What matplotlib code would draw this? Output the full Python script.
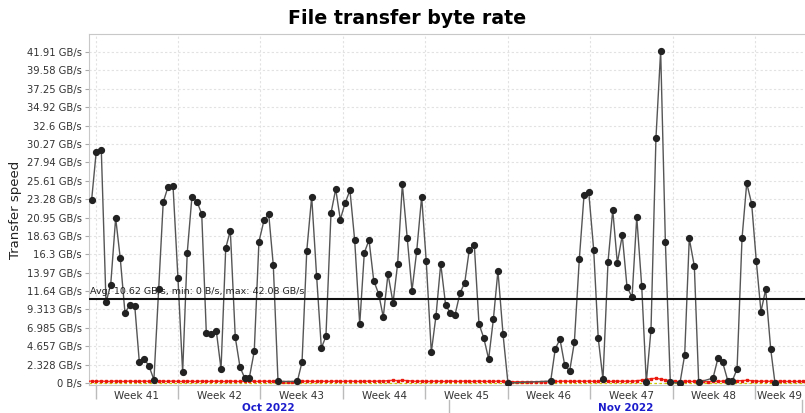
import matplotlib
matplotlib.use("Agg")
import matplotlib.pyplot as plt
import matplotlib.transforms as mtransforms

# days since 2022-10-01 00:00
days = [
    0.66, 1.05, 1.48, 1.88, 2.28, 2.70, 3.09, 3.49, 3.89, 4.32,
    4.71, 5.13, 5.53, 5.95, 6.35, 6.74, 7.14, 7.57, 7.99, 8.39,
    8.78, 9.18, 9.61, 10.01, 10.40, 10.82, 11.25, 11.65, 12.05, 12.44,
    12.86, 13.26, 13.66, 14.05, 14.47, 14.87, 15.30, 15.70, 16.09, 16.49,
    18.13, 18.53, 18.93, 19.35, 19.77, 20.17, 20.56, 20.99, 21.39, 21.78,
    22.18, 22.60, 23.00, 23.43, 23.82, 24.22, 24.62, 25.04, 25.43, 25.83,
    26.26, 26.65, 27.05, 27.47, 27.87, 28.27, 28.69, 29.08, 29.51, 29.91,
    30.31, 30.73, 31.12, 31.52, 31.95, 32.35, 32.74, 33.16, 33.56, 33.96,
    34.38, 34.78, 35.17, 35.60, 36.02,
    39.65, 40.04, 40.44, 40.84, 41.26, 41.66, 42.08, 42.48, 42.88, 43.30,
    43.69, 44.09, 44.52, 44.92, 45.31, 45.73, 46.13, 46.56, 46.96, 47.38,
    47.77, 48.17, 48.59, 48.99, 49.39, 49.81,
    50.63, 51.03, 51.42, 51.85, 52.22,
    53.44, 53.86, 54.26, 54.69, 55.08, 55.48, 55.90, 56.30, 56.72, 57.11,
    57.51, 57.91, 58.34, 58.70,
]

# GB/s
rate = [
    23.2, 29.3, 29.5, 10.2, 12.45, 20.9, 15.8, 8.9, 9.83, 9.8,
    2.66, 3.04, 2.15, 0.42, 11.9, 22.9, 24.8, 25.0, 13.3, 1.35,
    16.5, 23.6, 22.96, 21.4, 6.33, 6.2, 6.58, 1.77, 17.1, 19.3,
    5.79, 2.03, 0.63, 0.63, 4.0, 17.9, 20.6, 21.4, 14.9, 0.2,
    0.2, 2.66, 16.7, 23.6, 13.5, 4.43, 5.9, 21.5, 24.56, 20.7,
    22.75, 24.4, 18.1, 7.43, 16.5, 18.1, 12.96, 11.27, 8.36, 13.8,
    10.17, 15.1, 25.15, 18.3, 11.7, 16.7, 23.6, 15.4, 3.89, 8.53,
    15.1, 9.83, 8.9, 8.6, 11.4, 12.7, 16.9, 17.5, 7.47, 5.74,
    3.04, 8.06, 14.2, 6.2, 0.0,
    0.25, 4.35, 5.53, 2.28, 1.52, 5.15, 15.66, 23.76, 24.2, 16.9,
    5.66, 0.47, 15.36, 21.9, 15.2, 18.7, 12.2, 10.85, 21.0, 12.3,
    0.08, 6.75, 31.0, 42.08, 17.9, 0.08,
    0.0, 3.55, 18.3, 14.8, 0.1,
    0.63, 3.17, 2.6, 0.3, 0.3, 1.77, 18.3, 25.3, 22.7, 15.5,
    9.03, 11.86, 4.27, 0.0,
]

# second (small) series along the bottom
red_days = ([0.26] + days[0:40] + [16.9, 17.3, 17.7] + days[40:85]
            + [36.4, 36.8, 37.2, 37.6, 38.0, 38.4, 38.8, 39.2] + days[85:111]
            + [50.2] + days[111:116] + [52.6, 53.0] + days[116:130]
            + [59.1, 59.5, 59.9, 60.3, 60.7, 61.1])
red_rate = [
    0.2, 0.25, 0.2, 0.25, 0.2, 0.2, 0.25, 0.2, 0.2, 0.25,
    0.2, 0.2, 0.25, 0.2, 0.2, 0.2, 0.25, 0.2, 0.25, 0.2,
    0.2, 0.25, 0.2, 0.2, 0.25, 0.2, 0.2, 0.25, 0.2, 0.2,
    0.25, 0.2, 0.2, 0.2, 0.25, 0.2, 0.2, 0.25, 0.2, 0.2,
    0.2, 0.15, 0.15, 0.15, 0.2, 0.2, 0.25, 0.2, 0.2, 0.25,
    0.2, 0.2, 0.25, 0.2, 0.2, 0.25, 0.2, 0.2, 0.2, 0.25,
    0.2, 0.25, 0.25, 0.3, 0.35, 0.3, 0.35, 0.3, 0.25, 0.2,
    0.25, 0.2, 0.2, 0.25, 0.2, 0.2, 0.25, 0.2, 0.2, 0.25,
    0.2, 0.2, 0.25, 0.2, 0.2, 0.2, 0.25, 0.2, 0.2, 0.15,
    0.15, 0.15, 0.15, 0.15, 0.15, 0.15, 0.15, 0.15, 0.2, 0.2,
    0.25, 0.2, 0.2, 0.25, 0.2, 0.25, 0.2, 0.2, 0.25, 0.2,
    0.2, 0.25, 0.2, 0.25, 0.2, 0.3, 0.35, 0.45, 0.55, 0.6,
    0.5, 0.4, 0.3, 0.2, 0.2, 0.25, 0.2, 0.2, 0.25, 0.2,
    0.15, 0.2, 0.2, 0.25, 0.2, 0.25, 0.3, 0.3, 0.35, 0.3,
    0.25, 0.2, 0.25, 0.2, 0.2, 0.25, 0.2, 0.2, 0.2, 0.2,
    0.2,
]

avg_rate = 10.62
stats_text = "Avg: 10.62 GB/s, min: 0 B/s, max: 42.08 GB/s"

ytick_vals = [0, 2.328, 4.657, 6.985, 9.313, 11.64, 13.97, 16.3, 18.63, 20.95,
              23.28, 25.61, 27.94, 30.27, 32.6, 34.92, 37.25, 39.58, 41.91]
ytick_labels = ["0 B/s", "2.328 GB/s", "4.657 GB/s", "6.985 GB/s", "9.313 GB/s",
                "11.64 GB/s", "13.97 GB/s", "16.3 GB/s", "18.63 GB/s", "20.95 GB/s",
                "23.28 GB/s", "25.61 GB/s", "27.94 GB/s", "30.27 GB/s", "32.6 GB/s",
                "34.92 GB/s", "37.25 GB/s", "39.58 GB/s", "41.91 GB/s"]

# week starts (Sunday) as days since Oct 1
week_starts = [1, 8, 15, 22, 29, 36, 43, 50, 57]
week_labels = ["Week 41", "Week 42", "Week 43", "Week 44", "Week 45",
               "Week 46", "Week 47", "Week 48", "Week 49"]
month_starts = [0, 31, 61]
month_labels = ["Oct 2022", "Nov 2022"]

x_min, x_max = 0.41, 61.25
y_min, y_max = -0.25, 44.19

fig = plt.figure(figsize=(8.05, 4.13), dpi=100)
ax = fig.add_axes([88.7 / 805, 28 / 413, (805 - 88.7) / 805, 351 / 413])

ax.set_xlim(x_min, x_max)
ax.set_ylim(y_min, y_max)

# grid
for y in ytick_vals:
    ax.axhline(y, color="#e2e2e2", lw=0.8, ls=(0, (2, 2)), zorder=0)
for w in week_starts:
    ax.axvline(w, color="#e2e2e2", lw=0.8, ls=(0, (2, 2)), zorder=0)

ax.plot(days, rate, color="#555555", lw=1.0, marker="o", ms=4.2,
        mfc="#222222", mec="#222222", zorder=4)

ax.axhline(0.02, color="#cccc00", lw=0.9, ls=(0, (2, 2)), zorder=2)
ax.plot(red_days, red_rate, color="#ff3020", lw=1.0, marker="s", ms=2.0,
        mec="#e81a10", mfc="#e81a10", zorder=3)

ax.axhline(avg_rate, color="#111111", lw=1.5, zorder=5)
ax.text(0.55, avg_rate + 0.35, stats_text, fontsize=6.8, color="#222222",
        ha="left", va="bottom", zorder=6)

ax.set_yticks(ytick_vals)
ax.set_yticklabels(ytick_labels)
ax.tick_params(axis="y", labelsize=7.2, length=3, color="#aaaaaa",
               labelcolor="#333333", pad=2)
ax.set_ylabel("Transfer speed", fontsize=9.5, color="#222222", labelpad=3)

# week separators as major ticks, week names as minor ticks
ax.set_xticks(week_starts)
ax.set_xticklabels([])
ax.tick_params(axis="x", which="major", length=10, color="#bbbbbb", width=1)
centers = []
for i, w in enumerate(week_starts):
    end = min(w + 7, x_max)
    centers.append((w + end) / 2)
ax.set_xticks(centers, minor=True)
ax.set_xticklabels(week_labels, minor=True)
ax.tick_params(axis="x", which="minor", length=0, labelsize=7.5,
               labelcolor="#333333", pad=4)

trans = mtransforms.blended_transform_factory(ax.transData, fig.transFigure)
for i, lab in enumerate(month_labels):
    lo = max(month_starts[i], x_min)
    hi = min(month_starts[i + 1], x_max)
    ax.text((lo + hi) / 2, 5 / 413, lab, transform=trans, ha="center",
            va="center", fontsize=7.5, fontweight="bold", color="#1c1ccc")
for m in month_starts[1:]:
    ax.plot([m, m], [0, 13 / 413], transform=trans, color="#bbbbbb",
            lw=1, clip_on=False)

for side in ["left", "top", "bottom"]:
    ax.spines[side].set_color("#c8c8c8")
ax.spines["right"].set_visible(False)

fig.text(407.5 / 805, (413 - 18) / 413, "File transfer byte rate",
         ha="center", va="center", fontsize=13.7, fontweight="bold")

fig.savefig("out.png", dpi=100)
